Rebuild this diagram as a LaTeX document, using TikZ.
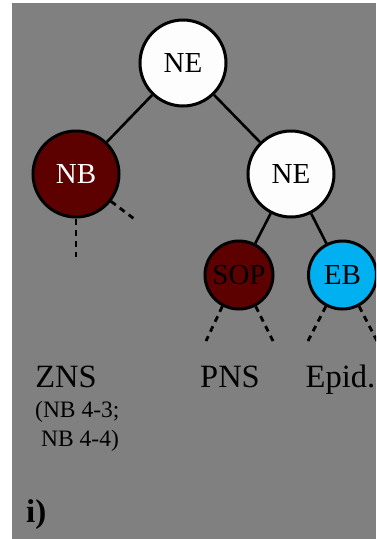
\documentclass[tikz,border=0pt]{standalone}
\usepackage{fontspec}
\setmainfont{Liberation Serif}
\definecolor{bggray}{HTML}{808080}
\definecolor{darkred}{HTML}{5C0000}
\definecolor{cyanb}{HTML}{00B0F0}
\definecolor{offwhite}{HTML}{FDFDFD}
\tikzset{
  bignode/.style={circle, draw=black, line width=3pt, minimum size=86pt, inner sep=0pt, font=\fontsize{29}{29}\selectfont},
  smallnode/.style={circle, draw=black, line width=3pt, minimum size=68pt, inner sep=0pt, font=\fontsize{29}{29}\selectfont},
  edgeline/.style={line width=2.6pt},
  dashline/.style={line width=2.8pt, dash pattern=on 6pt off 5pt},
  lab/.style={font=\fontsize{32.5}{32.5}\selectfont, inner sep=0pt, anchor=base},
  sublab/.style={font=\fontsize{23.5}{26}\selectfont, inner sep=0pt, anchor=base west}
}
\begin{document}
\begin{tikzpicture}[x=1pt,y=-1pt]
\useasboundingbox (0,0) rectangle (376,539);
\fill[bggray] (12,3) rectangle (376,539);
\begin{scope}
\clip (12,3) rectangle (376,539);
\node[bignode, fill=offwhite] (ne1) at (183,63) {NE};
\node[bignode, fill=darkred, text=white] (nb) at (76,174) {NB};
\node[bignode, fill=offwhite] (ne2) at (291,174) {NE};
\node[smallnode, fill=darkred] (sop) at (239,275) {SOP};
\node[smallnode, fill=cyanb] (eb) at (342.5,275) {EB};
\draw[edgeline] (ne1) -- (nb);
\draw[edgeline] (ne1) -- (ne2);
\draw[edgeline] (ne2) -- (sop);
\draw[edgeline] (ne2) -- (eb);
\coordinate (d1) at (76,257);
\coordinate (d2) at (137,221);
\coordinate (d3) at (206,341);
\coordinate (d4) at (273,341);
\coordinate (d5) at (308,341);
\coordinate (d6) at (377,341);
\draw[dashline] (nb.south) -- (d1);
\draw[dashline] (nb.-38) -- (d2);
\draw[dashline] (sop.-118) -- (d3);
\draw[dashline] (sop.-62) -- (d4);
\draw[dashline] (eb.-118) -- (d5);
\draw[dashline] (eb.-62) -- (d6);
\node[lab] (zns) at (66,387) {ZNS};
\node[lab] (pns) at (230,387) {PNS};
\node[lab] (epid) at (340.5,387) {Epid.};
\node[sublab] (s1) at (35,417) {(NB 4-3;};
\node[sublab] (s2) at (41,446) {NB 4-4)};
\node[font=\fontsize{33}{33}\selectfont\bfseries, inner sep=0pt, anchor=base west] (lbl) at (26,522) {i)};
\end{scope}
\end{tikzpicture}
\end{document}
